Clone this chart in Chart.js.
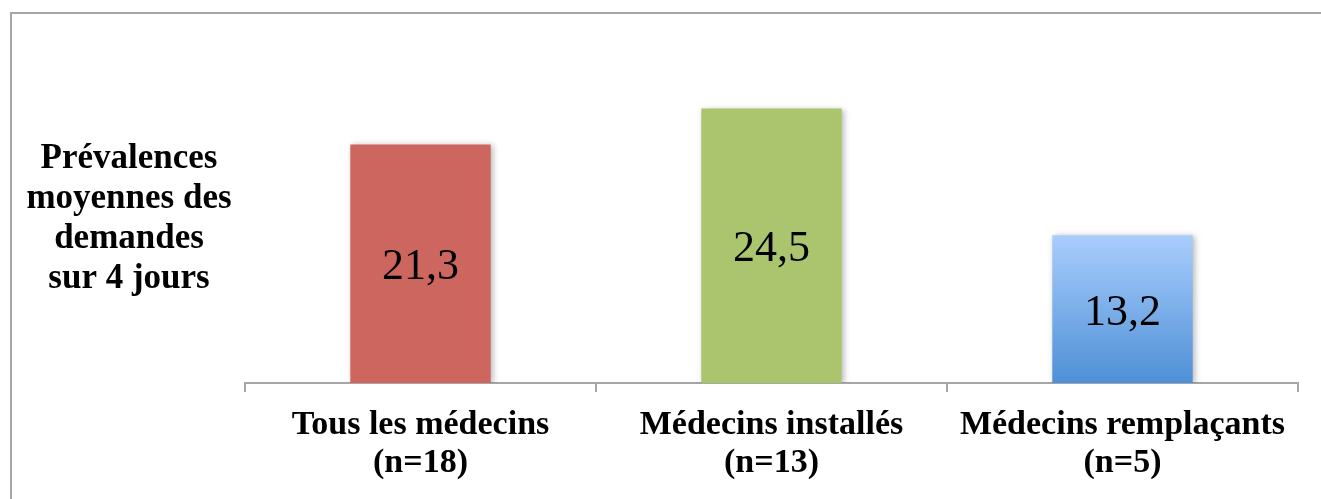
<!DOCTYPE html>
<html>
<head>
<meta charset="utf-8">
<script src="https://cdn.jsdelivr.net/npm/chart.js@4/dist/chart.umd.min.js"></script>
<style>
  html, body { margin: 0; padding: 0; background: #fff; }
  #wrap { position: relative; width: 1321px; height: 499px; }
</style>
</head>
<body>
<div id="wrap"><canvas id="prevChart"></canvas></div>
<script>
// data
const categories = [
  ["Tous les médecins", "(n=18)"],
  ["Médecins installés", "(n=13)"],
  ["Médecins remplaçants", "(n=5)"]
];
const values = [21.3, 24.5, 13.2];
const barColors = ["#CD665F", "#ABC46E", null]; // third bar is a gradient
const yTitle = ["Prévalences", "moyennes des", "demandes", "sur 4 jours"];

const serif = "'Liberation Serif', 'DejaVu Serif', serif";

// blue gradient for the last bar, built from the y scale
function barFill(context) {
  const i = context.dataIndex;
  if (barColors[i]) return barColors[i];
  const chart = context.chart;
  if (!chart.chartArea || !chart.scales.y) return "#7FB0EA";
  const y = chart.scales.y;
  const g = chart.ctx.createLinearGradient(0, y.getPixelForValue(values[i]), 0, y.getPixelForValue(0));
  g.addColorStop(0, "#AACDFD");
  g.addColorStop(1, "#4E90D6");
  return g;
}

// frame lines (left and top)
const framePlugin = {
  id: "frame",
  beforeDraw(chart) {
    const ctx = chart.ctx;
    ctx.save();
    ctx.strokeStyle = "#A6A6A6";
    ctx.lineWidth = 2;
    ctx.beginPath();
    ctx.moveTo(11, 499);
    ctx.lineTo(11, 13);
    ctx.lineTo(1321, 13);
    ctx.stroke();
    ctx.restore();
  }
};

// soft shadow behind the bars
const shadowPlugin = {
  id: "barShadow",
  beforeDatasetsDraw(chart) {
    const ctx = chart.ctx;
    ctx.save();
    ctx.shadowColor = "rgba(0,0,0,0.28)";
    ctx.shadowBlur = 6;
    ctx.shadowOffsetX = 2;
    ctx.shadowOffsetY = 1;
  },
  afterDatasetsDraw(chart) {
    chart.ctx.restore();
  }
};

// value inside each bar + horizontal axis title on the left
const labelPlugin = {
  id: "valueLabels",
  afterDatasetsDraw(chart) {
    const ctx = chart.ctx;
    const meta = chart.getDatasetMeta(0);
    ctx.save();
    ctx.fillStyle = "#000";
    ctx.textAlign = "center";
    ctx.textBaseline = "middle";
    ctx.font = "44px " + serif;
    meta.data.forEach((bar, i) => {
      const txt = values[i].toFixed(1).replace(".", ",");
      ctx.fillText(txt, bar.x, (bar.y + bar.base) / 2 + 4);
    });
    ctx.font = "bold 35px " + serif;
    yTitle.forEach((line, i) => {
      ctx.fillText(line, 129, 159 + i * 40);
    });
    ctx.restore();
  }
};

new Chart(document.getElementById("prevChart"), {
  type: "bar",
  data: {
    labels: categories,
    datasets: [{
      data: values,
      backgroundColor: barFill,
      borderWidth: 0,
      barPercentage: 0.4,
      categoryPercentage: 1
    }]
  },
  options: {
    responsive: true,
    maintainAspectRatio: false,
    animation: false,
    layout: { padding: { left: 245, right: 23, top: 47, bottom: 0 } },
    plugins: {
      legend: { display: false },
      tooltip: { enabled: false }
    },
    scales: {
      y: {
        display: false,
        min: 0,
        max: 30
      },
      x: {
        afterFit(scale) { scale.height = 116; },
        grid: {
          offset: true,
          drawOnChartArea: false,
          drawTicks: true,
          tickLength: 9,
          color: "#A6A6A6",
          lineWidth: 2
        },
        border: { color: "#A6A6A6", width: 2 },
        ticks: {
          color: "#000",
          padding: 15,
          font: { family: serif, size: 34, weight: "bold", lineHeight: 1.1 }
        }
      }
    }
  },
  plugins: [framePlugin, shadowPlugin, labelPlugin]
});
</script>
</body>
</html>
